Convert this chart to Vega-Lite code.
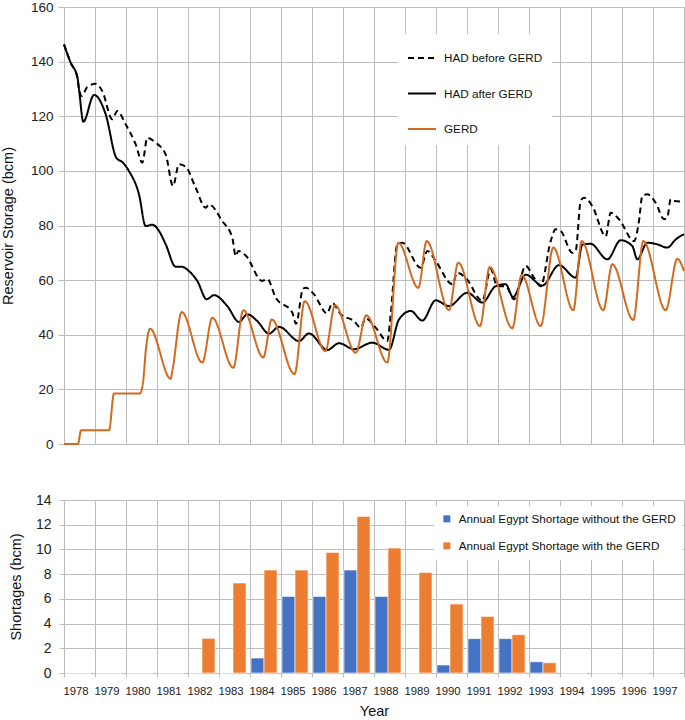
{
  "$schema": "https://vega.github.io/schema/vega-lite/v6.json",
  "padding": {"left": 0, "top": 0, "right": 0, "bottom": 0},
  "config": {
    "font": "Liberation Sans",
    "view": {"stroke": null},
    "axis": {"gridColor": "#bdbdbd", "tickColor": "#bdbdbd", "domain": false, "labelColor": "#222222", "titleColor": "#111111", "titleFontWeight": "normal", "titleFontSize": 14.5},
    "legend": {"labelColor": "#111111"}
  },
  "spacing": 42,
  "resolve": {"scale": {"color": "independent", "x": "independent", "y": "independent"}, "legend": {"color": "independent"}},
  "datasets": {
    "storage": [
      {"series": "HAD before GERD", "year": 1978.000, "storage": 146.3},
      {"series": "HAD before GERD", "year": 1978.216, "storage": 139.6},
      {"series": "HAD before GERD", "year": 1978.429, "storage": 134.4},
      {"series": "HAD before GERD", "year": 1978.484, "storage": 129.9},
      {"series": "HAD before GERD", "year": 1978.571, "storage": 127.4},
      {"series": "HAD before GERD", "year": 1978.752, "storage": 130.7},
      {"series": "HAD before GERD", "year": 1979.023, "storage": 131.9},
      {"series": "HAD before GERD", "year": 1979.235, "storage": 129.2},
      {"series": "HAD before GERD", "year": 1979.558, "storage": 118.9},
      {"series": "HAD before GERD", "year": 1979.719, "storage": 121.9},
      {"series": "HAD before GERD", "year": 1979.990, "storage": 117.0},
      {"series": "HAD before GERD", "year": 1980.313, "storage": 109.7},
      {"series": "HAD before GERD", "year": 1980.526, "storage": 103.0},
      {"series": "HAD before GERD", "year": 1980.687, "storage": 112.1},
      {"series": "HAD before GERD", "year": 1980.958, "storage": 110.3},
      {"series": "HAD before GERD", "year": 1981.281, "storage": 106.0},
      {"series": "HAD before GERD", "year": 1981.516, "storage": 94.5},
      {"series": "HAD before GERD", "year": 1981.710, "storage": 102.4},
      {"series": "HAD before GERD", "year": 1981.926, "storage": 101.5},
      {"series": "HAD before GERD", "year": 1982.248, "storage": 93.8},
      {"series": "HAD before GERD", "year": 1982.571, "storage": 86.5},
      {"series": "HAD before GERD", "year": 1982.677, "storage": 87.7},
      {"series": "HAD before GERD", "year": 1983.106, "storage": 81.6},
      {"series": "HAD before GERD", "year": 1983.429, "storage": 75.5},
      {"series": "HAD before GERD", "year": 1983.539, "storage": 68.8},
      {"series": "HAD before GERD", "year": 1983.623, "storage": 70.7},
      {"series": "HAD before GERD", "year": 1983.861, "storage": 69.0},
      {"series": "HAD before GERD", "year": 1984.397, "storage": 59.7},
      {"series": "HAD before GERD", "year": 1984.558, "storage": 60.4},
      {"series": "HAD before GERD", "year": 1984.829, "storage": 53.6},
      {"series": "HAD before GERD", "year": 1985.365, "storage": 48.1},
      {"series": "HAD before GERD", "year": 1985.484, "storage": 44.0},
      {"series": "HAD before GERD", "year": 1985.710, "storage": 56.8},
      {"series": "HAD before GERD", "year": 1985.797, "storage": 57.2},
      {"series": "HAD before GERD", "year": 1986.065, "storage": 54.8},
      {"series": "HAD before GERD", "year": 1986.484, "storage": 47.8},
      {"series": "HAD before GERD", "year": 1986.655, "storage": 51.6},
      {"series": "HAD before GERD", "year": 1986.926, "storage": 47.5},
      {"series": "HAD before GERD", "year": 1987.355, "storage": 45.0},
      {"series": "HAD before GERD", "year": 1987.571, "storage": 42.6},
      {"series": "HAD before GERD", "year": 1987.732, "storage": 46.0},
      {"series": "HAD before GERD", "year": 1988.055, "storage": 42.6},
      {"series": "HAD before GERD", "year": 1988.429, "storage": 37.7},
      {"series": "HAD before GERD", "year": 1988.539, "storage": 47.5},
      {"series": "HAD before GERD", "year": 1988.752, "storage": 73.1},
      {"series": "HAD before GERD", "year": 1988.913, "storage": 73.7},
      {"series": "HAD before GERD", "year": 1989.506, "storage": 64.5},
      {"series": "HAD before GERD", "year": 1989.719, "storage": 70.7},
      {"series": "HAD before GERD", "year": 1989.990, "storage": 67.0},
      {"series": "HAD before GERD", "year": 1990.526, "storage": 58.5},
      {"series": "HAD before GERD", "year": 1990.687, "storage": 62.7},
      {"series": "HAD before GERD", "year": 1990.958, "storage": 60.9},
      {"series": "HAD before GERD", "year": 1991.494, "storage": 52.4},
      {"series": "HAD before GERD", "year": 1991.765, "storage": 64.0},
      {"series": "HAD before GERD", "year": 1991.977, "storage": 57.8},
      {"series": "HAD before GERD", "year": 1992.248, "storage": 57.8},
      {"series": "HAD before GERD", "year": 1992.516, "storage": 53.0},
      {"series": "HAD before GERD", "year": 1992.894, "storage": 65.2},
      {"series": "HAD before GERD", "year": 1993.161, "storage": 60.9},
      {"series": "HAD before GERD", "year": 1993.377, "storage": 57.8},
      {"series": "HAD before GERD", "year": 1993.700, "storage": 74.3},
      {"series": "HAD before GERD", "year": 1993.861, "storage": 78.6},
      {"series": "HAD before GERD", "year": 1994.023, "storage": 78.0},
      {"series": "HAD before GERD", "year": 1994.397, "storage": 70.0},
      {"series": "HAD before GERD", "year": 1994.506, "storage": 70.7},
      {"series": "HAD before GERD", "year": 1994.668, "storage": 89.0},
      {"series": "HAD before GERD", "year": 1994.774, "storage": 90.2},
      {"series": "HAD before GERD", "year": 1995.042, "storage": 87.1},
      {"series": "HAD before GERD", "year": 1995.474, "storage": 76.1},
      {"series": "HAD before GERD", "year": 1995.635, "storage": 84.7},
      {"series": "HAD before GERD", "year": 1995.903, "storage": 82.3},
      {"series": "HAD before GERD", "year": 1996.387, "storage": 74.3},
      {"series": "HAD before GERD", "year": 1996.548, "storage": 81.6},
      {"series": "HAD before GERD", "year": 1996.655, "storage": 90.8},
      {"series": "HAD before GERD", "year": 1996.816, "storage": 91.4},
      {"series": "HAD before GERD", "year": 1997.087, "storage": 88.3},
      {"series": "HAD before GERD", "year": 1997.355, "storage": 82.3},
      {"series": "HAD before GERD", "year": 1997.461, "storage": 82.9},
      {"series": "HAD before GERD", "year": 1997.571, "storage": 89.6},
      {"series": "HAD before GERD", "year": 1997.677, "storage": 89.0},
      {"series": "HAD before GERD", "year": 1998.000, "storage": 88.7},
      {"series": "HAD after GERD", "year": 1978.000, "storage": 146.3},
      {"series": "HAD after GERD", "year": 1978.216, "storage": 139.6},
      {"series": "HAD after GERD", "year": 1978.429, "storage": 134.4},
      {"series": "HAD after GERD", "year": 1978.484, "storage": 129.9},
      {"series": "HAD after GERD", "year": 1978.623, "storage": 118.0},
      {"series": "HAD after GERD", "year": 1978.968, "storage": 127.8},
      {"series": "HAD after GERD", "year": 1979.345, "storage": 120.7},
      {"series": "HAD after GERD", "year": 1979.687, "storage": 104.8},
      {"series": "HAD after GERD", "year": 1979.903, "storage": 103.0},
      {"series": "HAD after GERD", "year": 1980.097, "storage": 99.9},
      {"series": "HAD after GERD", "year": 1980.419, "storage": 91.4},
      {"series": "HAD after GERD", "year": 1980.635, "storage": 79.8},
      {"series": "HAD after GERD", "year": 1980.848, "storage": 80.3},
      {"series": "HAD after GERD", "year": 1981.065, "storage": 78.0},
      {"series": "HAD after GERD", "year": 1981.281, "storage": 73.1},
      {"series": "HAD after GERD", "year": 1981.603, "storage": 64.9},
      {"series": "HAD after GERD", "year": 1981.797, "storage": 64.9},
      {"series": "HAD after GERD", "year": 1982.032, "storage": 63.3},
      {"series": "HAD after GERD", "year": 1982.300, "storage": 59.7},
      {"series": "HAD after GERD", "year": 1982.603, "storage": 53.0},
      {"series": "HAD after GERD", "year": 1982.839, "storage": 54.5},
      {"series": "HAD after GERD", "year": 1983.268, "storage": 50.5},
      {"series": "HAD after GERD", "year": 1983.645, "storage": 44.7},
      {"series": "HAD after GERD", "year": 1983.913, "storage": 47.5},
      {"series": "HAD after GERD", "year": 1984.235, "storage": 45.0},
      {"series": "HAD after GERD", "year": 1984.613, "storage": 40.4},
      {"series": "HAD after GERD", "year": 1984.935, "storage": 42.9},
      {"series": "HAD after GERD", "year": 1985.581, "storage": 37.7},
      {"series": "HAD after GERD", "year": 1985.903, "storage": 40.5},
      {"series": "HAD after GERD", "year": 1986.494, "storage": 34.4},
      {"series": "HAD after GERD", "year": 1986.871, "storage": 36.9},
      {"series": "HAD after GERD", "year": 1987.355, "storage": 34.7},
      {"series": "HAD after GERD", "year": 1987.945, "storage": 37.1},
      {"series": "HAD after GERD", "year": 1988.484, "storage": 34.5},
      {"series": "HAD after GERD", "year": 1988.806, "storage": 45.6},
      {"series": "HAD after GERD", "year": 1989.184, "storage": 48.7},
      {"series": "HAD after GERD", "year": 1989.558, "storage": 45.2},
      {"series": "HAD after GERD", "year": 1989.990, "storage": 52.6},
      {"series": "HAD after GERD", "year": 1990.419, "storage": 50.5},
      {"series": "HAD after GERD", "year": 1991.010, "storage": 55.4},
      {"series": "HAD after GERD", "year": 1991.494, "storage": 51.8},
      {"series": "HAD after GERD", "year": 1991.926, "storage": 57.8},
      {"series": "HAD after GERD", "year": 1992.248, "storage": 58.5},
      {"series": "HAD after GERD", "year": 1992.484, "storage": 53.8},
      {"series": "HAD after GERD", "year": 1992.894, "storage": 62.0},
      {"series": "HAD after GERD", "year": 1993.429, "storage": 58.0},
      {"series": "HAD after GERD", "year": 1993.968, "storage": 65.5},
      {"series": "HAD after GERD", "year": 1994.506, "storage": 60.9},
      {"series": "HAD after GERD", "year": 1994.719, "storage": 73.0},
      {"series": "HAD after GERD", "year": 1994.990, "storage": 73.3},
      {"series": "HAD after GERD", "year": 1995.526, "storage": 67.6},
      {"series": "HAD after GERD", "year": 1995.958, "storage": 74.6},
      {"series": "HAD after GERD", "year": 1996.332, "storage": 72.5},
      {"series": "HAD after GERD", "year": 1996.494, "storage": 67.6},
      {"series": "HAD after GERD", "year": 1996.816, "storage": 73.7},
      {"series": "HAD after GERD", "year": 1997.139, "storage": 73.1},
      {"series": "HAD after GERD", "year": 1997.461, "storage": 71.9},
      {"series": "HAD after GERD", "year": 1997.732, "storage": 74.9},
      {"series": "HAD after GERD", "year": 1998.000, "storage": 76.8},
      {"series": "GERD", "year": 1978.000, "storage": 0},
      {"series": "GERD", "year": 1978.452, "storage": 0},
      {"series": "GERD", "year": 1978.548, "storage": 5},
      {"series": "GERD", "year": 1979.452, "storage": 5},
      {"series": "GERD", "year": 1979.613, "storage": 18.5},
      {"series": "GERD", "year": 1980.452, "storage": 18.5},
      {"series": "GERD", "year": 1980.548, "storage": 22.4},
      {"series": "GERD", "year": 1980.645, "storage": 35.0},
      {"series": "GERD", "year": 1980.774, "storage": 42.2},
      {"series": "GERD", "year": 1981.442, "storage": 23.9},
      {"series": "GERD", "year": 1981.494, "storage": 26.7},
      {"series": "GERD", "year": 1981.797, "storage": 48.3},
      {"series": "GERD", "year": 1982.461, "storage": 29.8},
      {"series": "GERD", "year": 1982.784, "storage": 46.2},
      {"series": "GERD", "year": 1983.461, "storage": 27.9},
      {"series": "GERD", "year": 1983.784, "storage": 49.0},
      {"series": "GERD", "year": 1984.429, "storage": 31.7},
      {"series": "GERD", "year": 1984.700, "storage": 45.6},
      {"series": "GERD", "year": 1985.435, "storage": 25.6},
      {"series": "GERD", "year": 1985.765, "storage": 52.3},
      {"series": "GERD", "year": 1986.429, "storage": 34.0},
      {"series": "GERD", "year": 1986.742, "storage": 50.8},
      {"series": "GERD", "year": 1987.410, "storage": 33.4},
      {"series": "GERD", "year": 1987.752, "storage": 47.1},
      {"series": "GERD", "year": 1988.429, "storage": 29.8},
      {"series": "GERD", "year": 1988.784, "storage": 73.7},
      {"series": "GERD", "year": 1989.429, "storage": 57.2},
      {"series": "GERD", "year": 1989.700, "storage": 74.3},
      {"series": "GERD", "year": 1990.419, "storage": 49.0},
      {"series": "GERD", "year": 1990.719, "storage": 66.4},
      {"series": "GERD", "year": 1991.419, "storage": 43.2},
      {"series": "GERD", "year": 1991.732, "storage": 64.8},
      {"series": "GERD", "year": 1992.461, "storage": 42.4},
      {"series": "GERD", "year": 1992.763, "storage": 61.9},
      {"series": "GERD", "year": 1993.377, "storage": 43.2},
      {"series": "GERD", "year": 1993.784, "storage": 71.9},
      {"series": "GERD", "year": 1994.429, "storage": 49.0},
      {"series": "GERD", "year": 1994.700, "storage": 74.3},
      {"series": "GERD", "year": 1995.397, "storage": 49.0},
      {"series": "GERD", "year": 1995.687, "storage": 65.8},
      {"series": "GERD", "year": 1996.365, "storage": 45.4},
      {"series": "GERD", "year": 1996.687, "storage": 74.3},
      {"series": "GERD", "year": 1997.410, "storage": 49.0},
      {"series": "GERD", "year": 1997.784, "storage": 67.8},
      {"series": "GERD", "year": 1998.000, "storage": 63.3}
    ],
    "shortage": [
      {"year": "1978", "type": "Annual Egypt Shortage without the GERD", "shortage": 0},
      {"year": "1978", "type": "Annual Egypt Shortage with the GERD", "shortage": 0},
      {"year": "1979", "type": "Annual Egypt Shortage without the GERD", "shortage": 0},
      {"year": "1979", "type": "Annual Egypt Shortage with the GERD", "shortage": 0},
      {"year": "1980", "type": "Annual Egypt Shortage without the GERD", "shortage": 0},
      {"year": "1980", "type": "Annual Egypt Shortage with the GERD", "shortage": 0},
      {"year": "1981", "type": "Annual Egypt Shortage without the GERD", "shortage": 0},
      {"year": "1981", "type": "Annual Egypt Shortage with the GERD", "shortage": 0},
      {"year": "1982", "type": "Annual Egypt Shortage without the GERD", "shortage": 0},
      {"year": "1982", "type": "Annual Egypt Shortage with the GERD", "shortage": 2.8},
      {"year": "1983", "type": "Annual Egypt Shortage without the GERD", "shortage": 0},
      {"year": "1983", "type": "Annual Egypt Shortage with the GERD", "shortage": 7.28},
      {"year": "1984", "type": "Annual Egypt Shortage without the GERD", "shortage": 1.21},
      {"year": "1984", "type": "Annual Egypt Shortage with the GERD", "shortage": 8.33},
      {"year": "1985", "type": "Annual Egypt Shortage without the GERD", "shortage": 6.2},
      {"year": "1985", "type": "Annual Egypt Shortage with the GERD", "shortage": 8.33},
      {"year": "1986", "type": "Annual Egypt Shortage without the GERD", "shortage": 6.2},
      {"year": "1986", "type": "Annual Egypt Shortage with the GERD", "shortage": 9.76},
      {"year": "1987", "type": "Annual Egypt Shortage without the GERD", "shortage": 8.33},
      {"year": "1987", "type": "Annual Egypt Shortage with the GERD", "shortage": 12.67},
      {"year": "1988", "type": "Annual Egypt Shortage without the GERD", "shortage": 6.2},
      {"year": "1988", "type": "Annual Egypt Shortage with the GERD", "shortage": 10.11},
      {"year": "1989", "type": "Annual Egypt Shortage without the GERD", "shortage": 0},
      {"year": "1989", "type": "Annual Egypt Shortage with the GERD", "shortage": 8.14},
      {"year": "1990", "type": "Annual Egypt Shortage without the GERD", "shortage": 0.65},
      {"year": "1990", "type": "Annual Egypt Shortage with the GERD", "shortage": 5.58},
      {"year": "1991", "type": "Annual Egypt Shortage without the GERD", "shortage": 2.78},
      {"year": "1991", "type": "Annual Egypt Shortage with the GERD", "shortage": 4.58},
      {"year": "1992", "type": "Annual Egypt Shortage without the GERD", "shortage": 2.78},
      {"year": "1992", "type": "Annual Egypt Shortage with the GERD", "shortage": 3.1},
      {"year": "1993", "type": "Annual Egypt Shortage without the GERD", "shortage": 0.91},
      {"year": "1993", "type": "Annual Egypt Shortage with the GERD", "shortage": 0.83},
      {"year": "1994", "type": "Annual Egypt Shortage without the GERD", "shortage": 0},
      {"year": "1994", "type": "Annual Egypt Shortage with the GERD", "shortage": 0},
      {"year": "1995", "type": "Annual Egypt Shortage without the GERD", "shortage": 0},
      {"year": "1995", "type": "Annual Egypt Shortage with the GERD", "shortage": 0},
      {"year": "1996", "type": "Annual Egypt Shortage without the GERD", "shortage": 0},
      {"year": "1996", "type": "Annual Egypt Shortage with the GERD", "shortage": 0},
      {"year": "1997", "type": "Annual Egypt Shortage without the GERD", "shortage": 0},
      {"year": "1997", "type": "Annual Egypt Shortage with the GERD", "shortage": 0}
    ]
  },
  "vconcat": [
    {
      "width": 620,
      "height": 437,
      "data": {"name": "storage"},
      "mark": {"type": "line", "strokeWidth": 2, "interpolate": "monotone"},
      "encoding": {
        "x": {"field": "year", "type": "quantitative", "scale": {"domain": [1978, 1998], "nice": false, "zero": false},
          "axis": {"values": [1978,1979,1980,1981,1982,1983,1984,1985,1986,1987,1988,1989,1990,1991,1992,1993,1994,1995,1996,1997,1998], "labels": false, "ticks": false, "title": null, "grid": true}},
        "y": {"field": "storage", "type": "quantitative", "scale": {"domain": [0, 160], "nice": false},
          "axis": {"values": [0,20,40,60,80,100,120,140,160], "title": "Reservoir Storage (bcm)", "labelFontSize": 13.5, "tickSize": 6, "labelPadding": 5, "titlePadding": 15, "grid": true}},
        "color": {"field": "series", "type": "nominal",
          "scale": {"domain": ["HAD before GERD", "HAD after GERD", "GERD"], "range": ["#000000", "#000000", "#D2691E"]},
          "legend": {"orient": "none", "legendX": 334, "legendY": 27, "title": null, "fillColor": "white", "padding": 9, "symbolType": "stroke", "symbolSize": 784, "symbolStrokeWidth": 2, "labelFontSize": 11.7, "labelOffset": 7, "rowPadding": 13.5,
            "encode": {"symbols": {"update": {"strokeDash": {"signal": "datum.value === 'HAD before GERD' ? [6, 4] : [1, 0]"}}}}}},
        "strokeDash": {"field": "series", "type": "nominal",
          "scale": {"domain": ["HAD before GERD", "HAD after GERD", "GERD"], "range": [[6, 4], [1, 0], [1, 0]]},
          "legend": null}
      }
    },
    {
      "width": 620,
      "height": 173,
      "data": {"name": "shortage"},
      "mark": {"type": "bar", "stroke": "white", "strokeWidth": 0.6},
      "encoding": {
        "x": {"field": "year", "type": "ordinal", "scale": {"paddingInner": 0, "paddingOuter": 0},
          "axis": {"title": "Year", "labelAngle": 0, "grid": true, "tickBand": "extent", "tickSize": 4, "labelPadding": 8, "labelFontSize": 11.3, "labelOffset": -4, "titlePadding": 8}},
        "xOffset": {"field": "type", "type": "nominal",
          "scale": {"domain": ["Annual Egypt Shortage without the GERD", "Annual Egypt Shortage with the GERD"], "paddingOuter": 0.19, "paddingInner": 0, "align": 0.2}},
        "y": {"field": "shortage", "type": "quantitative", "scale": {"domain": [0, 14], "nice": false},
          "axis": {"values": [0,2,4,6,8,10,12,14], "title": "Shortages (bcm)", "labelFontSize": 14, "tickSize": 5, "labelPadding": 8, "titlePadding": 12, "grid": true}},
        "color": {"field": "type", "type": "nominal",
          "scale": {"domain": ["Annual Egypt Shortage without the GERD", "Annual Egypt Shortage with the GERD"], "range": ["#4472C4", "#ED7D31"]},
          "legend": {"orient": "none", "legendX": 370, "legendY": 6, "title": null, "fillColor": "white", "padding": 7, "symbolType": "square", "symbolSize": 49, "symbolStrokeWidth": 0, "labelFontSize": 11.7, "labelOffset": 6, "rowPadding": 14, "labelLimit": 300}}
      }
    }
  ]
}
